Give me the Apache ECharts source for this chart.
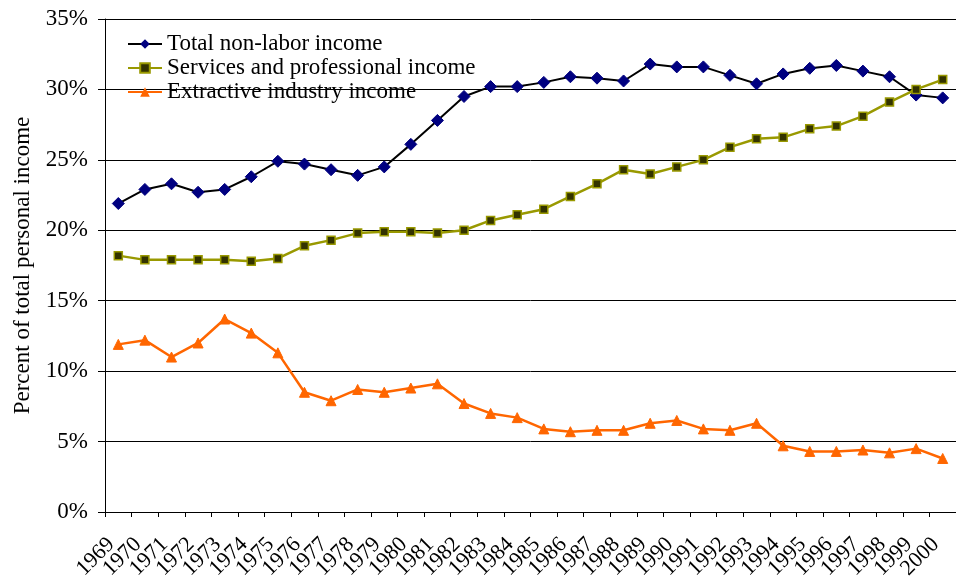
<!DOCTYPE html>
<html>
<head>
<meta charset="utf-8">
<script src="https://cdn.jsdelivr.net/npm/echarts@6/dist/echarts.min.js"></script>
<style>
  html,body{margin:0;padding:0;background:#fff;}
  #chart{width:956px;height:584px;}
</style>
</head>
<body>
<div id="chart"></div>
<script>
const years = ['1969','1970','1971','1972','1973','1974','1975','1976','1977','1978','1979','1980','1981','1982','1983','1984','1985','1986','1987','1988','1989','1990','1991','1992','1993','1994','1995','1996','1997','1998','1999','2000'];
const nonLabor = [21.9,22.9,23.3,22.7,22.9,23.8,24.9,24.7,24.3,23.9,24.5,26.1,27.8,29.5,30.2,30.2,30.5,30.9,30.8,30.6,31.8,31.6,31.6,31.0,30.4,31.1,31.5,31.7,31.3,30.9,29.6,29.4];
const services = [18.2,17.9,17.9,17.9,17.9,17.8,18.0,18.9,19.3,19.8,19.9,19.9,19.8,20.0,20.7,21.1,21.5,22.4,23.3,24.3,24.0,24.5,25.0,25.9,26.5,26.6,27.2,27.4,28.1,29.1,30.0,30.7];
const extractive = [11.9,12.2,11.0,12.0,13.7,12.7,11.3,8.5,7.9,8.7,8.5,8.8,9.1,7.7,7.0,6.7,5.9,5.7,5.8,5.8,6.3,6.5,5.9,5.8,6.3,4.7,4.3,4.3,4.4,4.2,4.5,3.8];
const yTicks = [0,5,10,15,20,25,30,35];

const font = '"Liberation Serif", "Times New Roman", serif';
const chart = echarts.init(document.getElementById('chart'));
chart.setOption({
  animation:false,
  backgroundColor:'#fff',
  textStyle:{fontFamily:font, color:'#000'},
  grid:{left:105, top:19, width:859, height:493, containLabel:false},
  legend:{
    orient:'vertical', left:122, top:27, itemGap:0, itemWidth:34, itemHeight:12,
    textStyle:{fontFamily:font, fontSize:23, lineHeight:24, color:'#000'},
    data:['Total non-labor income','Services and professional income','Extractive industry income']
  },
  xAxis:{
    type:'category', data:years, boundaryGap:true,
    axisLine:{lineStyle:{color:'#000', width:1}},
    axisTick:{show:true, length:5, lineStyle:{color:'#000'}},
    axisLabel:{interval:0, rotate:45, fontFamily:font, fontSize:22, color:'#000', margin:22, padding:[0,10,0,0]}
  },
  yAxis:{
    type:'value', min:yTicks[0], max:yTicks[yTicks.length-1], interval:5,
    name:'Percent of total personal income', nameLocation:'middle', nameGap:67,
    nameTextStyle:{fontFamily:font, fontSize:23, color:'#000'},
    axisLine:{show:true, lineStyle:{color:'#000'}},
    axisTick:{show:true, length:7, lineStyle:{color:'#000'}},
    axisLabel:{fontFamily:font, fontSize:23, color:'#000', margin:17, formatter:v=>v+'%'},
    splitLine:{show:true, lineStyle:{color:'#000', width:1}}
  },
  series:[
    {name:'Total non-labor income', type:'line', data:nonLabor,
     symbol:'diamond', symbolSize:12,
     lineStyle:{color:'#000', width:2},
     itemStyle:{color:'#000080', borderColor:'#000080'}},
    {name:'Services and professional income', type:'line', data:services,
     symbol:'rect', symbolSize:8,
     lineStyle:{color:'#999900', width:2.5},
     itemStyle:{color:'#333300', borderColor:'#999900', borderWidth:1.5}},
    {name:'Extractive industry income', type:'line', data:extractive,
     symbol:'triangle', symbolSize:10,
     lineStyle:{color:'#ff6600', width:2.5},
     itemStyle:{color:'#ff6600', borderColor:'#ff6600'}}
  ]
});
</script>
</body>
</html>
